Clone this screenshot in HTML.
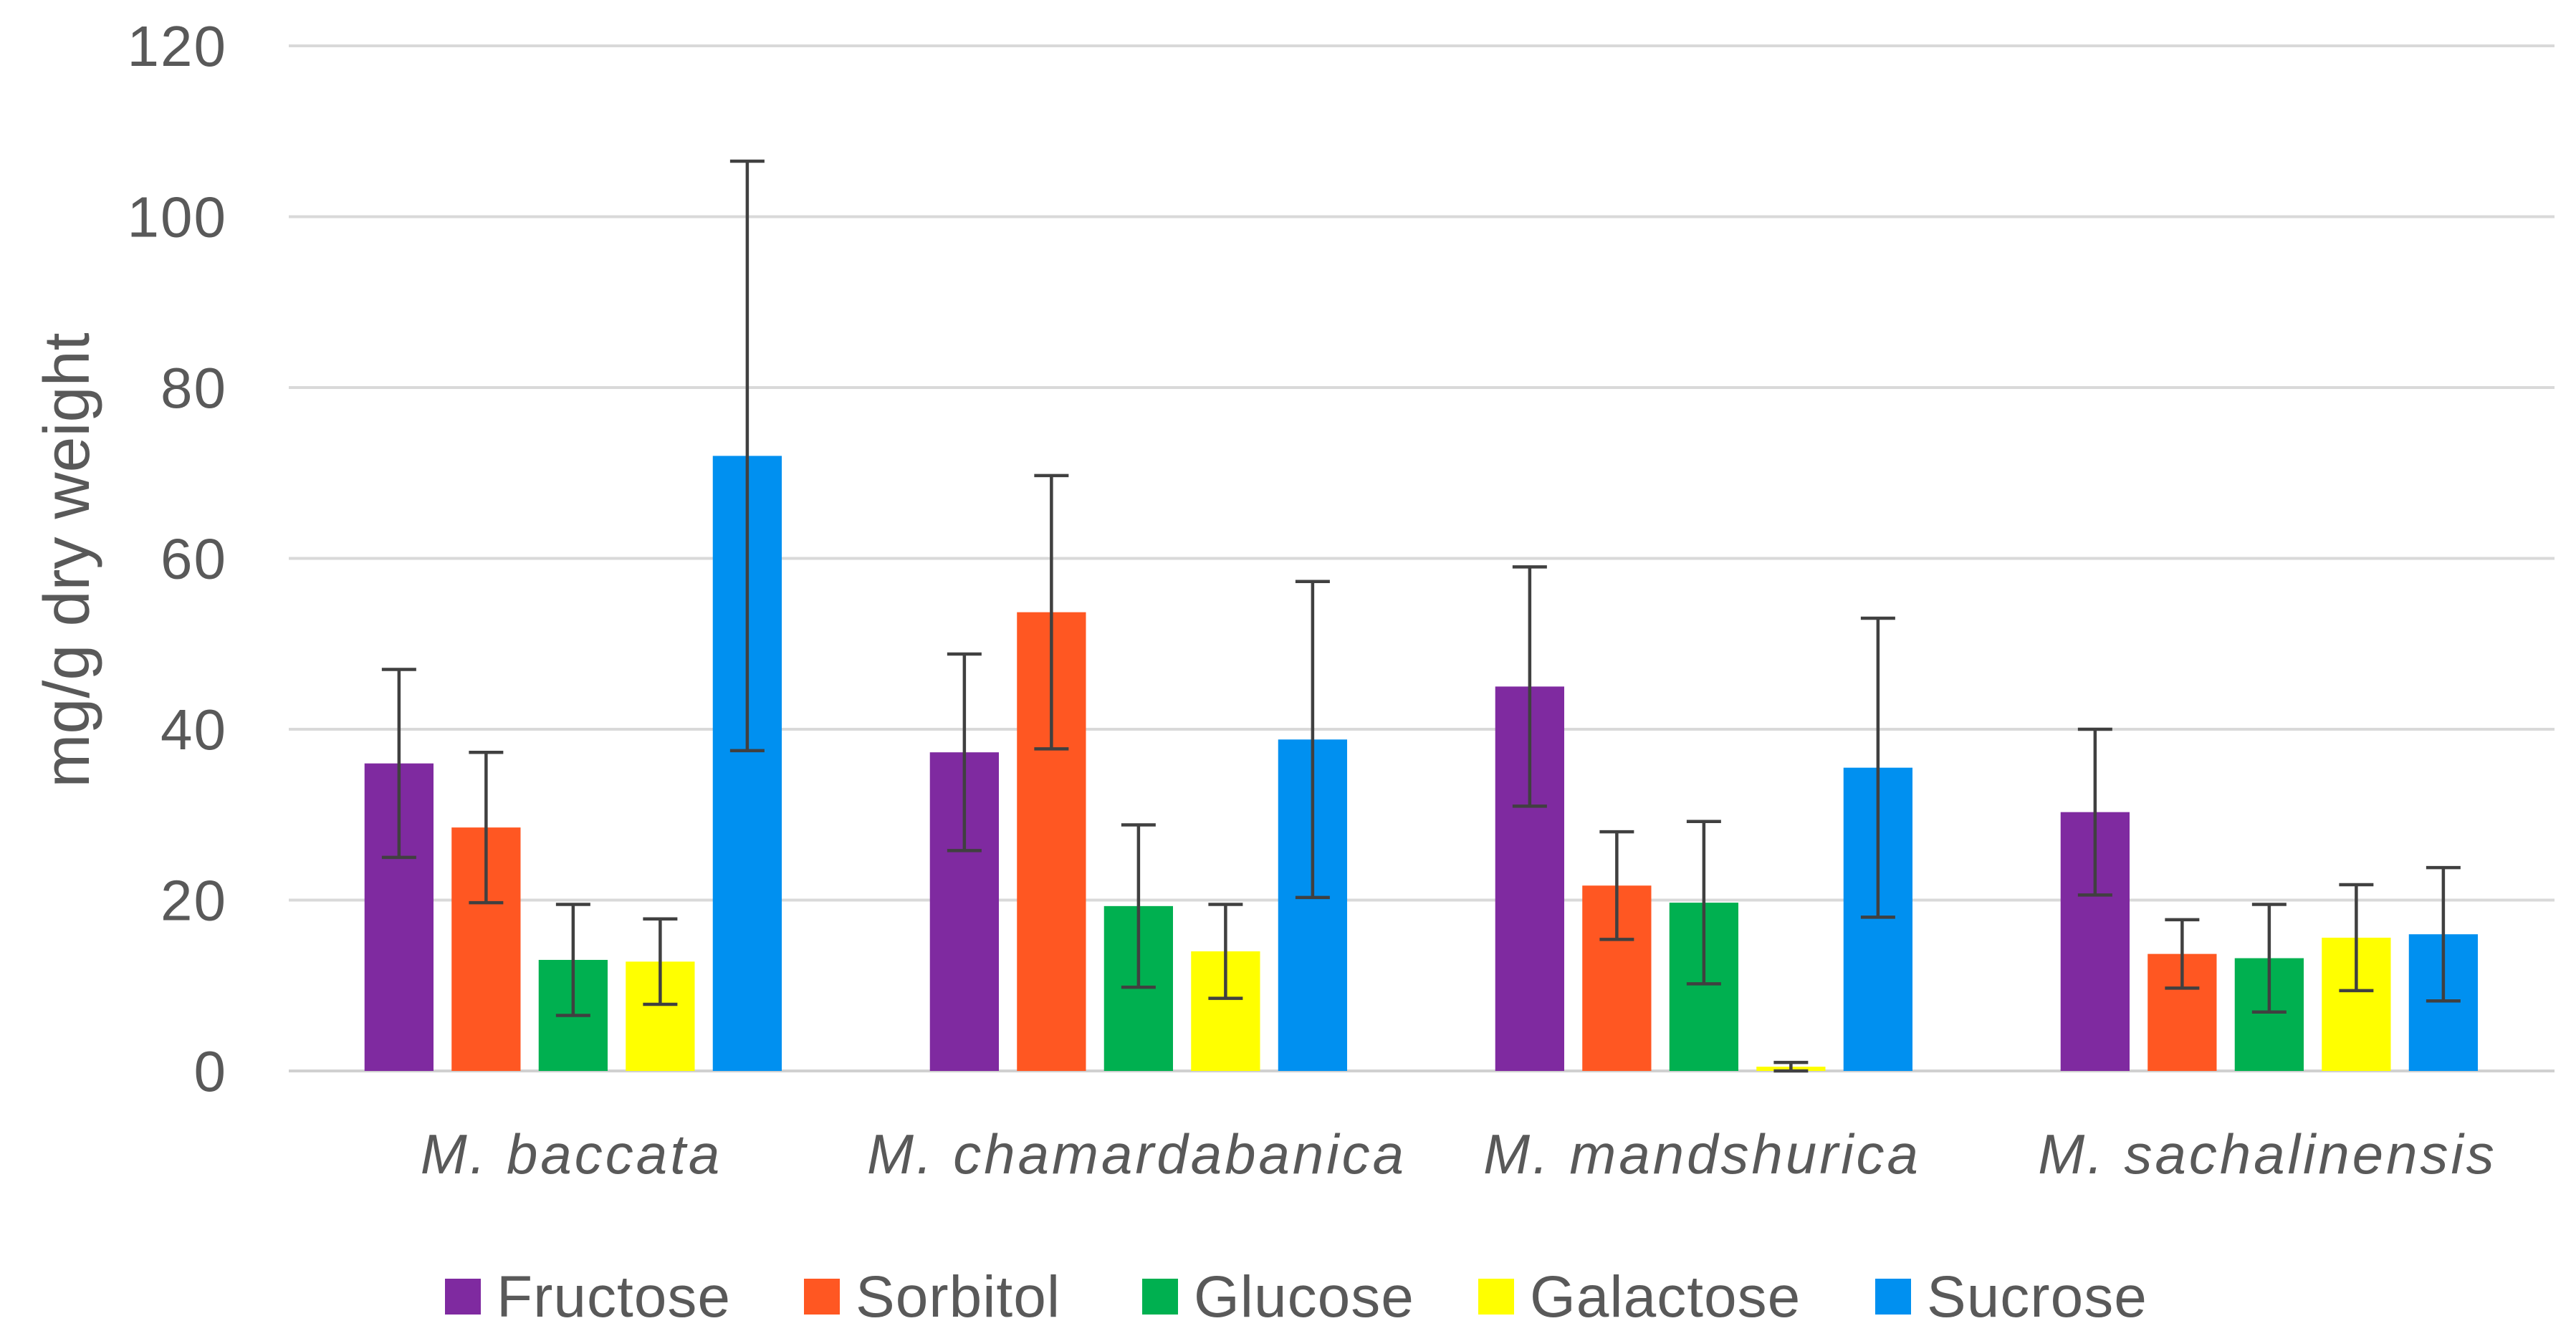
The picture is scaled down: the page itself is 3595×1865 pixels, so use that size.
<!DOCTYPE html>
<html><head><meta charset="utf-8"><style>
html,body{margin:0;padding:0;background:#fff}
svg{display:block}
text{font-family:"Liberation Sans",sans-serif;fill:#595959}
</style></head><body>
<svg id="chart" width="3595" height="1865" xmlns="http://www.w3.org/2000/svg"></svg>
<script>
const categories = ["M. baccata","M. chamardabanica","M. mandshurica","M. sachalinensis"];
const seriesNames = ["Fructose","Sorbitol","Glucose","Galactose","Sucrose"];
const fructose = [36, 37.3, 45, 30.3];
const sorbitol = [28.5, 53.7, 21.7, 13.7];
const glucose = [13, 19.3, 19.7, 13.2];
const galactose = [12.8, 14, 0.5, 15.6];
const sucrose = [72, 38.8, 35.5, 16];
const fructoseErr = [11, 11.5, 14, 9.7];
const sorbitolErr = [8.8, 16, 6.3, 4];
const glucoseErr = [6.5, 9.5, 9.5, 6.3];
const galactoseErr = [5, 5.5, 0.5, 6.2];
const sucroseErr = [34.5, 18.5, 17.5, 7.8];
const yTicks = [0,20,40,60,80,100,120];

const values = [fructose, sorbitol, glucose, galactose, sucrose];
const errs = [fructoseErr, sorbitolErr, glucoseErr, galactoseErr, sucroseErr];
const colors = ["#7F2AA0","#FF5722","#00B050","#FFFF00","#0090F0"];
const NS = "http://www.w3.org/2000/svg";
const svg = document.getElementById("chart");
const L = 403, R = 3559, T = 64, B = 1495, yMax = 120;
const y = v => B - (v / yMax) * (B - T);
const catW = (R - L) / categories.length;
const x = (c, s) => L + c * catW + catW * 0.134 + s * catW * 0.154;
const bw = catW * 0.122;
function el(tag, attrs, parent) {
  const e = document.createElementNS(NS, tag);
  for (const k in attrs) e.setAttribute(k, attrs[k]);
  (parent || svg).appendChild(e);
  return e;
}
yTicks.forEach(t => {
  const g = el("line", {x1: L, x2: 3565, y1: y(t), y2: y(t), stroke: t === 0 ? "#d0d0d0" : "#d9d9d9", "stroke-width": 4});
  
  
  const tx = el("text", {x: 317, y: y(t) + 28, "text-anchor": "end", "font-size": 80, "letter-spacing": 2});
  tx.textContent = t;
  
  
});
const yt = el("text", {x: 0, y: 0, "text-anchor": "middle", "font-size": 90, transform: "translate(124,782) rotate(-90)"});
yt.textContent = "mg/g  dry weight";


values.forEach((arr, s) => {
  arr.forEach((v, c) => {
    const r = el("rect", {x: x(c, s), y: y(v), width: bw, height: B - y(v), fill: colors[s]});
    
    
  });
});
values.forEach((arr, s) => {
  arr.forEach((v, c) => {
    const cx = x(c, s) + bw / 2, e = errs[s][c];
    const g = el("g", {stroke: "#404040", "stroke-width": 4.5});
    
    
    el("line", {x1: cx, x2: cx, y1: y(v + e), y2: y(Math.max(0, v - e))}, g);
    el("line", {x1: cx - 24, x2: cx + 24, y1: y(v + e), y2: y(v + e)}, g);
    el("line", {x1: cx - 24, x2: cx + 24, y1: y(Math.max(0, v - e)), y2: y(Math.max(0, v - e))}, g);
  });
});
categories.forEach((c, i) => {
  const t = el("text", {x: L + catW * (i + 0.5), y: 1638, "text-anchor": "middle", "font-size": 78, "font-style": "italic", "letter-spacing": 4});
  t.textContent = c;
  
  
});
const legX = [621, 1122, 1594, 2063, 2617];
seriesNames.forEach((n, i) => {
  const g = el("g", {});
  
  
  el("rect", {x: legX[i], y: 1785, width: 50, height: 50, fill: colors[i]}, g);
  const t = el("text", {x: legX[i] + 72, y: 1838, "font-size": 82, "letter-spacing": 1}, g);
  t.textContent = n;
});
</script>
</body></html>
